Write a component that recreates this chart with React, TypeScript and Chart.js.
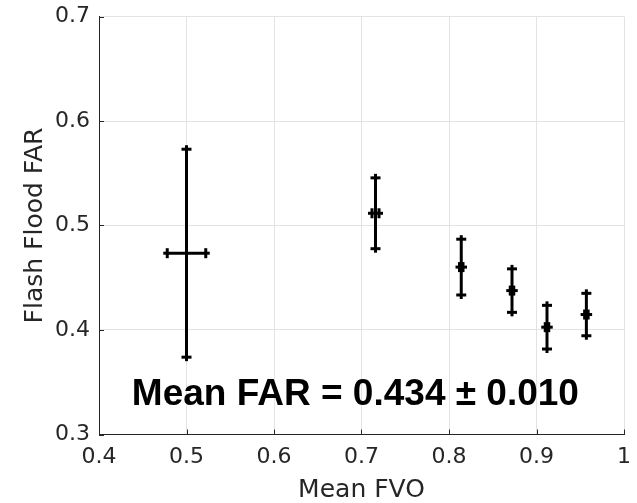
import { useEffect, useRef } from "react";
import { Chart, registerables } from "chart.js";

Chart.register(...registerables);

// ---- data ----
const meanFVO = [0.5, 0.716, 0.814, 0.872, 0.912, 0.957];
const fvoErr = [0.022, 0.004, 0.002, 0.002, 0.002, 0.002];
const meanFAR = [0.4735, 0.5117, 0.4602, 0.4377, 0.4027, 0.4148];
const farErr = [0.0995, 0.0339, 0.0267, 0.0208, 0.0209, 0.0203];

const xTicks = [0.4, 0.5, 0.6, 0.7, 0.8, 0.9, 1.0];
const xTickLabels = ["0.4", "0.5", "0.6", "0.7", "0.8", "0.9", "1"];
const yTicks = [0.3, 0.4, 0.5, 0.6, 0.7];
const yTickLabels = ["0.3", "0.4", "0.5", "0.6", "0.7"];

const xTitle = "Mean FVO";
const yTitle = "Flash Flood FAR";
const annotationText = "Mean FAR = 0.434 ± 0.010";
const annotationAt = [0.693, 0.328];

const AXIS_COLOR = "#262626";
const GRID_COLOR = "#e3e3e3";
const FONT = "'DejaVu Sans', sans-serif";

const inwardTicks = {
  id: "inwardTicks",
  beforeDatasetsDraw(chart: any) {
    const { ctx, chartArea, scales } = chart;
    const { x, y } = scales;
    ctx.save();
    ctx.strokeStyle = AXIS_COLOR;
    ctx.lineWidth = 1;
    const len = 5;
    xTicks.forEach((v) => {
      const px = Math.round(x.getPixelForValue(v)) + 0.5;
      ctx.beginPath();
      ctx.moveTo(px, chartArea.bottom);
      ctx.lineTo(px, chartArea.bottom - len);
      ctx.stroke();
    });
    yTicks.forEach((v) => {
      const py = Math.round(y.getPixelForValue(v)) + 0.5;
      ctx.beginPath();
      ctx.moveTo(chartArea.left, py);
      ctx.lineTo(chartArea.left + len, py);
      ctx.stroke();
    });
    ctx.restore();
  },
};

const errorBars = {
  id: "errorBars",
  afterDatasetsDraw(chart: any) {
    const { ctx, scales } = chart;
    const { x, y } = scales;
    const capHalf = 5;
    const stub = 4;
    ctx.save();
    ctx.strokeStyle = "#000";
    ctx.lineCap = "butt";
    const line = (x1: number, y1: number, x2: number, y2: number, w: number) => {
      ctx.lineWidth = w;
      ctx.beginPath();
      ctx.moveTo(x1, y1);
      ctx.lineTo(x2, y2);
      ctx.stroke();
    };
    for (let i = 0; i < meanFVO.length; i++) {
      const px = x.getPixelForValue(meanFVO[i]);
      const py = y.getPixelForValue(meanFAR[i]);
      const yTop = y.getPixelForValue(meanFAR[i] + farErr[i]);
      const yBot = y.getPixelForValue(meanFAR[i] - farErr[i]);
      const xL = x.getPixelForValue(meanFVO[i] - fvoErr[i]);
      const xR = x.getPixelForValue(meanFVO[i] + fvoErr[i]);
      line(px, yTop, px, yBot, 3);
      line(xL, py, xR, py, 3);
      line(px - capHalf, yTop, px + capHalf, yTop, 3);
      line(px, yTop, px, yTop - stub, 3);
      line(px - capHalf, yBot, px + capHalf, yBot, 3);
      line(px, yBot, px, yBot + stub, 3);
      line(xL, py - capHalf, xL, py + capHalf, 3);
      line(xL, py, xL - stub, py, 3);
      line(xR, py - capHalf, xR, py + capHalf, 3);
      line(xR, py, xR + stub, py, 3);
    }
    ctx.restore();
  },
};

const annotation = {
  id: "annotationText",
  afterDraw(chart: any) {
    const { ctx, scales } = chart;
    const { x, y } = scales;
    ctx.save();
    ctx.font = "bold 37px 'Liberation Sans', Arial, sans-serif";
    ctx.fillStyle = "#000";
    ctx.textAlign = "center";
    ctx.textBaseline = "alphabetic";
    ctx.fillText(annotationText, x.getPixelForValue(annotationAt[0]), y.getPixelForValue(annotationAt[1]));
    ctx.restore();
  },
};

export default function App() {
  const ref = useRef<HTMLCanvasElement>(null);
  useEffect(() => {
    const chart = new Chart(ref.current as HTMLCanvasElement, {
      type: "scatter",
      data: {
        datasets: [
          {
            data: meanFVO.map((v, i) => ({ x: v, y: meanFAR[i] })),
            pointRadius: 0,
            showLine: false,
          },
        ],
      },
      options: {
        animation: false,
        responsive: false,
        devicePixelRatio: 1,
        layout: { padding: { left: 0, right: 13, top: 16.5, bottom: 0 } },
        plugins: { legend: { display: false }, tooltip: { enabled: false } },
        scales: {
          x: {
            type: "linear",
            min: 0.4,
            max: 1.0,
            afterBuildTicks: (s: any) => {
              s.ticks = xTicks.map((v) => ({ value: v }));
            },
            afterFit: (s: any) => {
              s.height = 68.5;
              s.paddingLeft = 0;
              s.paddingRight = 0;
            },
            grid: { color: GRID_COLOR, lineWidth: 1, drawTicks: false },
            border: { display: true, color: AXIS_COLOR, width: 1 },
            ticks: {
              autoSkip: false,
              maxRotation: 0,
              padding: 10,
              color: AXIS_COLOR,
              font: { family: FONT, size: 22 },
              callback: (_v: any, i: number) => xTickLabels[i],
            },
            title: {
              display: true,
              text: xTitle,
              color: AXIS_COLOR,
              font: { family: FONT, size: 25, lineHeight: 1.0 },
              padding: { top: 0, bottom: 0 },
            },
          },
          y: {
            type: "linear",
            min: 0.3,
            max: 0.7,
            afterBuildTicks: (s: any) => {
              s.ticks = yTicks.map((v) => ({ value: v }));
            },
            afterFit: (s: any) => {
              s.width = 99;
              s.paddingTop = 0;
              s.paddingBottom = 0;
            },
            grid: { color: GRID_COLOR, lineWidth: 1, drawTicks: false },
            border: { display: true, color: AXIS_COLOR, width: 1 },
            ticks: {
              autoSkip: false,
              padding: 9,
              color: AXIS_COLOR,
              font: { family: FONT, size: 22 },
              callback: (_v: any, i: number) => yTickLabels[i],
            },
            title: {
              display: true,
              text: yTitle,
              color: AXIS_COLOR,
              font: { family: FONT, size: 25, lineHeight: 1.2 },
              padding: { top: 20, bottom: 0 },
            },
          },
        },
      },
      plugins: [inwardTicks, errorBars, annotation],
    });
    return () => chart.destroy();
  }, []);
  return (
    <div style={{ position: "fixed", left: 0, top: 0, width: 637, height: 503, background: "#fff" }}>
      <canvas ref={ref} width={637} height={503} style={{ width: 637, height: 503, display: "block" }} />
    </div>
  );
}
